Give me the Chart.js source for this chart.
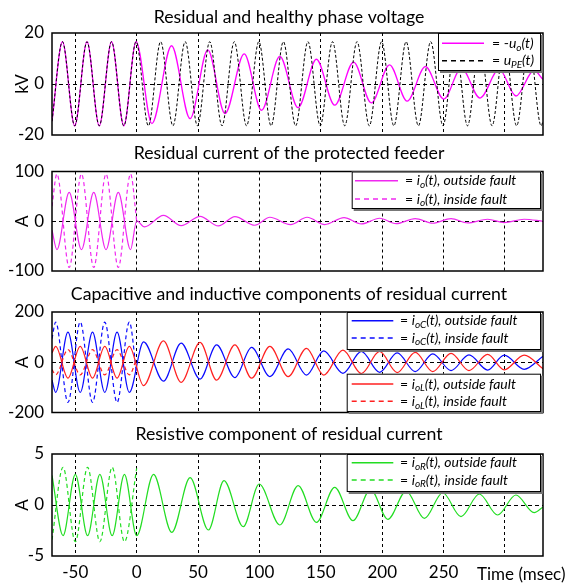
<!DOCTYPE html>
<html>
<head>
<meta charset="utf-8">
<script src="https://cdn.jsdelivr.net/npm/chart.js@4.4.0/dist/chart.umd.min.js"></script>
<style>
  html, body { margin: 0; padding: 0; background: #fff; }
  #wrap { position: relative; width: 571px; height: 583px; }
  canvas { position: absolute; left: 0; top: 0; }
</style>
</head>
<body>
<div id="wrap">
  <canvas id="c1" width="571" height="583"></canvas>
  <canvas id="c2" width="571" height="583"></canvas>
  <canvas id="c3" width="571" height="583"></canvas>
  <canvas id="c4" width="571" height="583"></canvas>
</div>
<script>
// time axis (msec)
const xTicks = [-50, 0, 50, 100, 150, 200, 250, 300];
const X_MIN = -69, X_MAX = 331;

// panel 1: voltages (kV), read at peaks / troughs
const tUpe = [-69, -60.5, -50.5, -40.5, -30.5, -20.5, -10.5, -0.5, 9.5, 19.5, 29.5, 39.5, 49.5, 59.5, 69.5, 79.5, 89.5, 99.5, 109.5, 119.5, 129.5, 139.5, 149.5, 159.5, 169.5, 179.5, 189.5, 199.5, 209.5, 219.5, 229.5, 239.5, 249.5, 259.5, 269.5, 279.5, 289.5, 299.5, 309.5, 319.5, 329.5, 331];
const vUpe = [-14.6, 16.6, -16.4, 16.6, -16.4, 16.6, -16.4, 16.6, -16.4, 16.6, -16.4, 16.6, -16.4, 16.6, -16.4, 16.6, -16.4, 16.6, -16.4, 16.6, -16.4, 16.6, -16.4, 16.6, -16.4, 16.6, -16.4, 16.6, -16.4, 16.6, -16.4, 16.6, -16.4, 16.6, -16.4, 16.6, -16.4, 16.6, -16.4, 16.6, -16.4, -14.6];
const tUo = [-69, -60.5, -50.5, -40.5, -30.5, -20.5, -10.5, -0.5, 12.4, 28.4, 43.5, 57.9, 71.9, 87.6, 101.7, 116.6, 131.5, 146.4, 161.3, 176.7, 191.1, 206, 220.3, 235.2, 250.1, 264.5, 279.7, 295.2, 309, 323.6, 331];
const vUo = [-14.6, 16.6, -16.4, 16.6, -16.4, 16.6, -16.4, 16.6, -15.5, 15.0, -13.6, 13.4, -11.6, 11.8, -10.3, 10.8, -9.3, 9.7, -8.3, 8.6, -7.4, 7.5, -6.7, 6.8, -5.9, 6.2, -5.5, 5.8, -4.7, 5.3, 1.8];

// panel 2: residual current (A)
const tIoOut = [-69, -65, -55, -45, -35, -25, -15, -5, 0, 6.3, 21.8, 36.2, 51.6, 66.5, 80, 96.3, 108.5, 125.3, 138.8, 153.2, 168.9, 183, 197.9, 211.4, 226.9, 241.2, 256.1, 269.6, 285.9, 299.4, 315.6, 331];
const vIoOut = [-18, -57, 58, -57, 58, -57, 58, -57, 1, -11.4, 12, -8.7, 10, -9.4, 9.4, -8, 8, -6.7, 8, -6.7, 7.4, -5.4, 6, -4.7, 5.4, -4, 5.4, -3.4, 4, -2.7, 4, 0];
const tIoIn = [-69, -65, -55, -45, -35, -25, -15, -5, 0];
const vIoIn = [30, 95, -93, 95, -93, 95, -93, 95, 0];

// panel 3: capacitive / inductive components (A)
const tIocOut = [-69, -66, -56, -46, -36, -26, -16, -6, 5.6, 21.8, 36.2, 51.6, 65.1, 80, 93.6, 108.5, 123.4, 138.3, 152.4, 168, 183, 197.9, 212.2, 226.9, 241.2, 256.1, 270.7, 285.9, 299.4, 315.7, 331];
const vIocOut = [-71, -120, 120, -120, 120, -120, 120, -120, 81, -75, 76, -67, 69, -61, 59, -57, 53, -51, 45, -44, 43, -40, 37, -37, 33, -33, 29, -31, 28, -28, 24];
const tIocIn = [-69, -66, -56, -46, -36, -26, -16, -6, 0];
const vIocIn = [94, 160, -160, 160, -160, 160, -160, 160, -49];
const tIolOut = [-69, -66, -56, -46, -36, -26, -16, -6, 5.6, 21.8, 36.2, 51.6, 65.1, 80, 93.6, 108.5, 123.4, 138.3, 152.4, 168, 183, 197.9, 212.2, 226.9, 241.2, 256.1, 270.7, 285.9, 299.4, 315.7, 331];
const vIolOut = [37, 63, -63, 63, -63, 63, -63, 63, -93, 85, -80, 79, -71, 69, -63, 63, -57, 55, -51, 48, -45, 43, -41, 39, -37, 35, -33, 31, -30, 28, -26];
const tIolIn = [-69, -66, -56, -46, -36, -26, -16, -6, 0];
const vIolIn = [-29, -50, 50, -50, 50, -50, 50, -50, 15];

// panel 4: resistive component (A)
const tIorOut = [-69, -60, -50, -40, -30, -20, -10, 0, 13.7, 28.6, 43.5, 58.4, 71.1, 86.8, 99.8, 116.6, 131.5, 146.4, 161.3, 176.2, 190.5, 204.6, 219.5, 234.4, 249.3, 264.2, 279.1, 294, 308.9, 323.8, 331];
const vIorOut = [2.9, -3.0, 3.0, -3.0, 3.0, -3.0, 3.0, -3.0, 3.0, -2.68, 2.68, -2.45, 2.39, -2.12, 2.06, -1.96, 1.9, -1.7, 1.73, -1.54, 1.54, -1.4, 1.37, -1.31, 1.2, -1.14, 1.08, -0.98, 0.98, -0.75, -0.2];
const tIorIn = [-69, -60, -50, -40, -30, -20, -10, 0];
const vIorIn = [-3.4, 3.7, -3.6, 3.7, -3.6, 3.7, -3.6, 3.6];

const FONT = 'Lato, "DejaVu Sans", sans-serif';
const MAGENTA = '#ff00ff', MAGENTA2 = '#f028f0', BLUE = '#0a0aff', RED = '#ff2020', GREEN = '#22dd22';

function pts(t, v) {
  return t.map((x, i) => ({ x: x, y: v[i] }));
}

function line(t, v, color, dash, width, order) {
  return {
    data: pts(t, v),
    borderColor: color,
    borderWidth: width,
    borderDash: dash,
    pointRadius: 0,
    cubicInterpolationMode: 'monotone',
    order: order
  };
}

// text with italic parts and subscripts
function rich(ctx, x, y, segs, size) {
  segs.forEach(([txt, style]) => {
    let dy = 0;
    if (style === 'sub') {
      ctx.font = `italic ${Math.round(size * 0.7)}px ${FONT}`;
      dy = size * 0.3;
    } else if (style === 'i') {
      ctx.font = `italic ${size}px ${FONT}`;
    } else {
      ctx.font = `${size}px ${FONT}`;
    }
    ctx.fillText(txt, x, y + dy);
    x += ctx.measureText(txt).width;
  });
}

function legendRows(sub, color, y1, y2) {
  return [
    { color: color, dash: false, y: y1, segs: [['= ', 'n'], ['i', 'i'], [sub, 'sub'], ['(t), outside fault', 'i']] },
    { color: color, dash: true, y: y2, segs: [['= ', 'n'], ['i', 'i'], [sub, 'sub'], ['(t), inside fault', 'i']] }
  ];
}

function panelPlugin(p) {
  return {
    id: 'deco',
    afterDraw(chart) {
      const ctx = chart.ctx, a = chart.chartArea;
      ctx.save();
      ctx.setLineDash([]);
      ctx.strokeStyle = '#000';
      ctx.lineWidth = 1.5;
      ctx.strokeRect(a.left, a.top, a.right - a.left, a.bottom - a.top);

      ctx.fillStyle = '#000';
      ctx.font = `17.7px ${FONT}`;
      ctx.textAlign = 'center';
      ctx.textBaseline = 'alphabetic';
      ctx.fillText(p.title, 289, p.titleY);

      // unit label, rotated, on the zero line
      const zy = chart.scales.y.getPixelForValue(0);
      ctx.save();
      ctx.translate(a.left - 29, zy);
      ctx.rotate(-Math.PI / 2);
      ctx.textBaseline = 'middle';
      ctx.font = `17px ${FONT}`;
      ctx.fillText(p.unit, 0, 0);
      ctx.restore();

      p.legends.forEach(lg => {
        const [x0, y0, x1, y1] = lg.box;
        ctx.fillStyle = '#777';
        ctx.fillRect(x0 + 2, y0 + 2, x1 - x0, y1 - y0);
        ctx.fillStyle = '#fff';
        ctx.fillRect(x0, y0, x1 - x0, y1 - y0);
        ctx.strokeStyle = '#000';
        ctx.lineWidth = 1;
        ctx.strokeRect(x0 + 0.5, y0 + 0.5, x1 - x0 - 1, y1 - y0 - 1);
        lg.rows.forEach(r => {
          ctx.strokeStyle = r.color;
          ctx.lineWidth = 1.5;
          ctx.setLineDash(r.dash ? [5, 4] : []);
          ctx.beginPath();
          ctx.moveTo(lg.lx0, r.y);
          ctx.lineTo(lg.lx1, r.y);
          ctx.stroke();
          ctx.setLineDash([]);
          ctx.fillStyle = '#000';
          ctx.textAlign = 'left';
          ctx.textBaseline = 'middle';
          rich(ctx, lg.tx, r.y, r.segs, lg.size);
        });
      });

      if (p.xTitle) {
        ctx.fillStyle = '#000';
        ctx.font = `17px ${FONT}`;
        ctx.textAlign = 'left';
        ctx.textBaseline = 'alphabetic';
        ctx.fillText(p.xTitle, 477, 580);
      }
      ctx.restore();
    }
  };
}

function makeChart(id, p) {
  return new Chart(document.getElementById(id), {
    type: 'line',
    data: { datasets: p.datasets },
    options: {
      responsive: false,
      animation: false,
      devicePixelRatio: 1,
      events: [],
      layout: {
        autoPadding: false,
        padding: { top: p.top, bottom: 583 - p.bottom - p.xh, left: 0, right: 28 }
      },
      plugins: { legend: { display: false }, title: { display: false }, tooltip: { enabled: false } },
      scales: {
        x: {
          type: 'linear',
          min: X_MIN,
          max: X_MAX,
          afterFit: s => { s.height = p.xh; },
          afterBuildTicks: s => { s.ticks = xTicks.map(v => ({ value: v })); },
          ticks: {
            display: p.xh > 0,
            padding: 6,
            color: '#000',
            autoSkip: false,
            maxRotation: 0,
            font: { family: FONT, size: 17 },
            callback: v => (v === 300 ? '' : String(v))
          },
          grid: { color: '#000', lineWidth: 1, drawTicks: false },
          border: { display: false, dash: [3, 3] }
        },
        y: {
          min: p.yMin,
          max: p.yMax,
          afterFit: s => { s.width = 52; },
          afterBuildTicks: s => { s.ticks = [p.yMin, 0, p.yMax].map(v => ({ value: v })); },
          ticks: { padding: 8, color: '#000', font: { family: FONT, size: 17 } },
          grid: {
            color: c => (c.tick && c.tick.value === 0 ? '#000' : 'rgba(0,0,0,0)'),
            lineWidth: 1,
            drawTicks: false
          },
          border: { display: false, dash: [4, 3] }
        }
      }
    },
    plugins: [panelPlugin(p)]
  });
}

makeChart('c1', {
  top: 33, bottom: 135, xh: 0, yMin: -20, yMax: 20, unit: 'kV',
  title: 'Residual and healthy phase voltage', titleY: 22.5,
  datasets: [
    line(tUpe, vUpe, '#000', [3, 2], 1, 0),
    line(tUo, vUo, MAGENTA, [], 1.3, 1)
  ],
  legends: [{
    box: [438, 33, 541, 71], lx0: 442, lx1: 484, tx: 492, size: 14,
    rows: [
      { color: MAGENTA, dash: false, y: 43.3, segs: [['= -', 'n'], ['u', 'i'], ['o', 'sub'], ['(t)', 'i']] },
      { color: '#000', dash: true, y: 60.7, segs: [['= ', 'n'], ['u', 'i'], ['PE', 'sub'], ['(t)', 'i']] }
    ]
  }]
});

makeChart('c2', {
  top: 171.5, bottom: 271, xh: 0, yMin: -100, yMax: 100, unit: 'A',
  title: 'Residual current of the protected feeder', titleY: 158.5,
  datasets: [
    line(tIoOut, vIoOut, MAGENTA2, [], 1.2, 0),
    line(tIoIn, vIoIn, MAGENTA2, [4, 3], 1.2, 1)
  ],
  legends: [{
    box: [351.7, 171.5, 541, 209], lx0: 355, lx1: 398, tx: 405, size: 14,
    rows: legendRows('o', MAGENTA2, 180.7, 199)
  }]
});

makeChart('c3', {
  top: 312, bottom: 412.5, xh: 0, yMin: -200, yMax: 200, unit: 'A',
  title: 'Capacitive and inductive components of residual current', titleY: 299.5,
  datasets: [
    line(tIolOut, vIolOut, RED, [], 1.2, 0),
    line(tIolIn, vIolIn, RED, [4, 3], 1.2, 1),
    line(tIocOut, vIocOut, BLUE, [], 1.2, 2),
    line(tIocIn, vIocIn, BLUE, [4, 3], 1.2, 3)
  ],
  legends: [
    { box: [346.7, 312, 541, 350], lx0: 351.7, lx1: 393.3, tx: 400, size: 14, rows: legendRows('oC', BLUE, 320.7, 338) },
    { box: [346.7, 373.7, 541, 412], lx0: 351.7, lx1: 393.3, tx: 400, size: 14, rows: legendRows('oL', RED, 384, 401.3) }
  ]
});

makeChart('c4', {
  top: 454, bottom: 556, xh: 27, yMin: -5, yMax: 5, unit: 'A',
  title: 'Resistive component of residual current', titleY: 439.5, xTitle: 'Time (msec)',
  datasets: [
    line(tIorOut, vIorOut, GREEN, [], 1.2, 0),
    line(tIorIn, vIorIn, GREEN, [4, 3], 1.2, 1)
  ],
  legends: [{
    box: [346.7, 454, 541, 492], lx0: 351.7, lx1: 393.3, tx: 400, size: 14,
    rows: legendRows('oR', GREEN, 462.7, 480)
  }]
});
</script>
</body>
</html>
